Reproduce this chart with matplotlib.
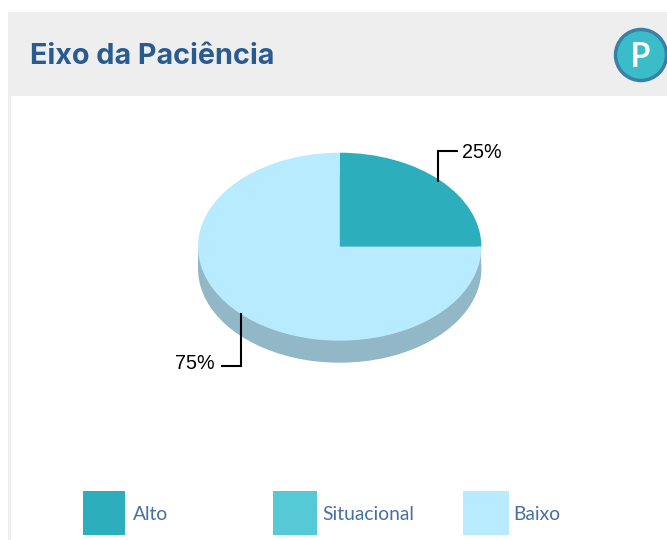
import matplotlib
matplotlib.use("Agg")
import matplotlib.pyplot as plt
from matplotlib.patches import Rectangle, Circle

title = "Eixo da Paciência"
categories = ["Alto", "Situacional", "Baixo"]
values = [25, 0, 75]
colors = ["#2caebc", "#55c9d5", "#b8ebff"]
side_color = "#92b7c6"

W, H = 667, 540
fig = plt.figure(figsize=(W / 100, H / 100), dpi=100, facecolor="white")

# Page furniture in pixel coordinates
bg = fig.add_axes([0, 0, 1, 1], zorder=0)
bg.set_xlim(0, W)
bg.set_ylim(H, 0)
bg.axis("off")
bg.add_patch(Rectangle((8, 12), W - 8, 84, fc="#eeeeee", ec="none"))
bg.add_patch(Rectangle((8, 96), 2.5, H - 96, fc="#eeeeee", ec="none"))
bg.text(30, 57, title, family="Inter", weight="bold", fontsize=20.7,
        color="#2a5b90", va="center", ha="left")
bg.add_patch(Circle((641, 55), 25.5, fc="#3bbcc9", ec="#3a80a6", lw=2.5))
bg.text(640.5, 58, "P", family="Open Sans", weight="semibold", fontsize=25,
        color="white", va="center", ha="center")

# Pie
cx, cy, rx, ry, depth = 339.7, 246.7, 141.7, 94, 22
kx, ky = 1.25, 1.5
pie = fig.add_axes([(cx - kx * rx) / W, 1 - (cy + ky * ry) / H,
                    2 * kx * rx / W, 2 * ky * ry / H], zorder=1)
d = depth / ry
pie.pie(values, colors=[side_color] * 3, startangle=0, center=(0, -d),
        radius=1, wedgeprops={"linewidth": 0})
pie.add_patch(Rectangle((-1, -d), 2, d, fc=side_color, ec="none"))
pie.pie(values, colors=colors, startangle=0, center=(0, 0), radius=1,
        wedgeprops={"linewidth": 0})
pie.set_aspect("auto")
pie.set_xlim(-kx, kx)
pie.set_ylim(-ky, ky)
pie.axis("off")

# Leaders, labels, legend
fg = fig.add_axes([0, 0, 1, 1], zorder=2)
fg.set_xlim(0, W)
fg.set_ylim(H, 0)
fg.axis("off")
fg.patch.set_alpha(0)
fg.plot([438, 438, 458], [182, 151, 151], color="black", lw=1.5,
        solid_joinstyle="miter", solid_capstyle="butt")
fg.plot([241, 241, 221], [313, 366, 366], color="black", lw=1.5,
        solid_joinstyle="miter", solid_capstyle="butt")
fg.text(462, 152, f"{values[0]}%", family="Liberation Sans", fontsize=14.2,
        color="black", va="center", ha="left")
fg.text(215, 363.5, f"{values[2]}%", family="Liberation Sans", fontsize=14.2,
        color="black", va="center", ha="right")

boxes = [(83, 42), (273, 44), (463, 46)]
text_x = [132.5, 322, 513]
for (x, w), tx, name, c in zip(boxes, text_x, categories, colors):
    fg.add_patch(Rectangle((x, 491), w, 44, fc=c, ec="none"))
    fg.text(tx, 515, name, family="Lato", fontsize=13.9,
            color="#48709f", va="center", ha="left")

fig.savefig("out.png", dpi=100)
